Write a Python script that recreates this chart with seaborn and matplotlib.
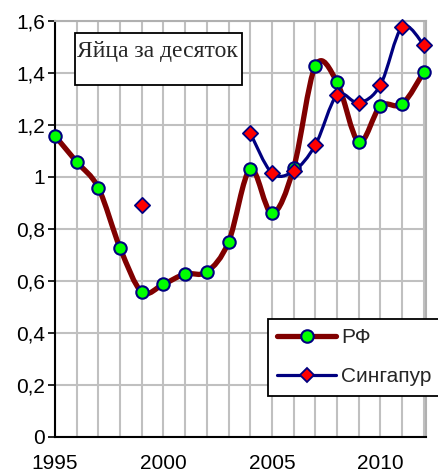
import numpy as np
import pandas as pd
import matplotlib
matplotlib.use("Agg")
import matplotlib.pyplot as plt
import seaborn as sns
from matplotlib.path import Path
from matplotlib.patches import PathPatch, Rectangle
from matplotlib.lines import Line2D
from matplotlib.ticker import MultipleLocator, FuncFormatter

# data
rf_years = [1995, 1996, 1997, 1998, 1999, 2000, 2001, 2002, 2003,
            2004, 2005, 2006, 2007, 2008, 2009, 2010, 2011, 2012]
rf_values = [1.158, 1.058, 0.958, 0.727, 0.558, 0.588, 0.627, 0.635, 0.75,
             1.03, 0.86, 1.035, 1.427, 1.365, 1.135, 1.273, 1.28, 1.404]
sg_years = [1999, 2004, 2005, 2006, 2007, 2008, 2009, 2010, 2011, 2012]
sg_values = [0.892, 1.169, 1.015, 1.023, 1.123, 1.315, 1.285, 1.354, 1.577, 1.508]

title = "Яйца за десяток"
labels = ["РФ", "Сингапур"]

RF_LINE = "#800000"
SG_LINE = "#000080"

sns.set_style("white")
plt.rcParams["font.family"] = ["Liberation Sans", "DejaVu Sans"]


def smooth_path(xs, ys):
    # bezier segments like excel's smoothed line
    pts = np.column_stack([xs, ys]).astype(float)
    verts = [pts[0]]
    codes = [Path.MOVETO]
    n = len(pts)
    for i in range(n - 1):
        p0 = pts[i - 1] if i > 0 else pts[i]
        p1 = pts[i]
        p2 = pts[i + 1]
        p3 = pts[i + 2] if i + 2 < n else pts[i + 1]
        c1 = p1 + (p2 - p0) / 6
        c2 = p2 - (p3 - p1) / 6
        verts += [c1, c2, p2]
        codes += [Path.CURVE4] * 3
    return Path(verts, codes)


rf = pd.DataFrame({"year": rf_years, "value": rf_values})
sg = pd.DataFrame({"year": sg_years, "value": sg_values})

fig = plt.figure(figsize=(4.39, 4.74), dpi=100)
ax = fig.add_axes([55 / 439, 1 - 437 / 474, 371 / 439, 416 / 474])

ax.add_patch(PathPatch(smooth_path(rf["year"], rf["value"]), fill=False,
                       edgecolor=RF_LINE, lw=3.8, capstyle="round",
                       joinstyle="round", zorder=3, clip_on=False))
sg_run = sg[sg["year"] >= 2004]
ax.add_patch(PathPatch(smooth_path(sg_run["year"], sg_run["value"]), fill=False,
                       edgecolor=SG_LINE, lw=2.3, capstyle="round",
                       joinstyle="round", zorder=4, clip_on=False))

sns.scatterplot(data=rf, x="year", y="value", ax=ax, marker="o", s=80,
                color="#00ff00", edgecolor=SG_LINE, linewidth=1.5, zorder=5,
                clip_on=False)
sns.scatterplot(data=sg, x="year", y="value", ax=ax, marker="D", s=60,
                color="#ff0000", edgecolor=SG_LINE, linewidth=1.3, zorder=6,
                clip_on=False)

ax.set_xlim(1995, 2012.1)
ax.set_ylim(0, 1.6)
ax.set_xlabel("")
ax.set_ylabel("")

ax.xaxis.set_major_locator(MultipleLocator(5))
ax.xaxis.set_minor_locator(MultipleLocator(1))
ax.yaxis.set_major_locator(MultipleLocator(0.2))
ax.yaxis.set_major_formatter(FuncFormatter(lambda v, p: f"{v:.1f}".rstrip("0").rstrip(".").replace(".", ",")))
ax.xaxis.set_major_formatter(FuncFormatter(lambda v, p: f"{int(round(v))}"))

ax.grid(True, which="both", axis="x", color="#c0c0c0", lw=1.5, zorder=0)
ax.grid(True, which="major", axis="y", color="#c0c0c0", lw=1.5, zorder=0)
ax.set_axisbelow(True)

for side in ["top", "right"]:
    ax.spines[side].set_color("#b0b0b0")
    ax.spines[side].set_linewidth(1.5)
for side in ["left", "bottom"]:
    ax.spines[side].set_color("black")
    ax.spines[side].set_linewidth(1.5)

ax.tick_params(axis="both", which="both", direction="out", length=5, width=1.2,
               color="black", labelsize=15, labelcolor="black")
ax.tick_params(axis="y", left=True, pad=2)
ax.tick_params(axis="x", which="major", pad=7)

# title box
ax.add_patch(Rectangle((0.054, 0.846), 0.45, 0.125, transform=ax.transAxes,
                       facecolor="white", edgecolor="black", lw=1.3, zorder=7))
ax.text(0.060, 0.913, title, transform=ax.transAxes, fontsize=17,
        family=["Liberation Serif", "DejaVu Serif"], va="baseline", ha="left",
        zorder=8)

handles = [
    Line2D([], [], color=RF_LINE, lw=3.8, marker="o", markersize=9,
           markerfacecolor="#00ff00", markeredgecolor=SG_LINE, markeredgewidth=1.5),
    Line2D([], [], color=SG_LINE, lw=2.3, marker="D", markersize=7.5,
           markerfacecolor="#ff0000", markeredgecolor=SG_LINE, markeredgewidth=1.3),
]
leg = fig.legend(handles, labels, loc="upper left",
                 bbox_to_anchor=(268 / 439, 1 - 319 / 474), fontsize=15,
                 frameon=True, fancybox=False, edgecolor="black", framealpha=1,
                 handlelength=2.8, handletextpad=0.25, labelspacing=0.95,
                 borderpad=0.45, borderaxespad=0)
leg.get_frame().set_linewidth(1.3)
leg.set_zorder(10)

fig.savefig("out.png", dpi=100)
